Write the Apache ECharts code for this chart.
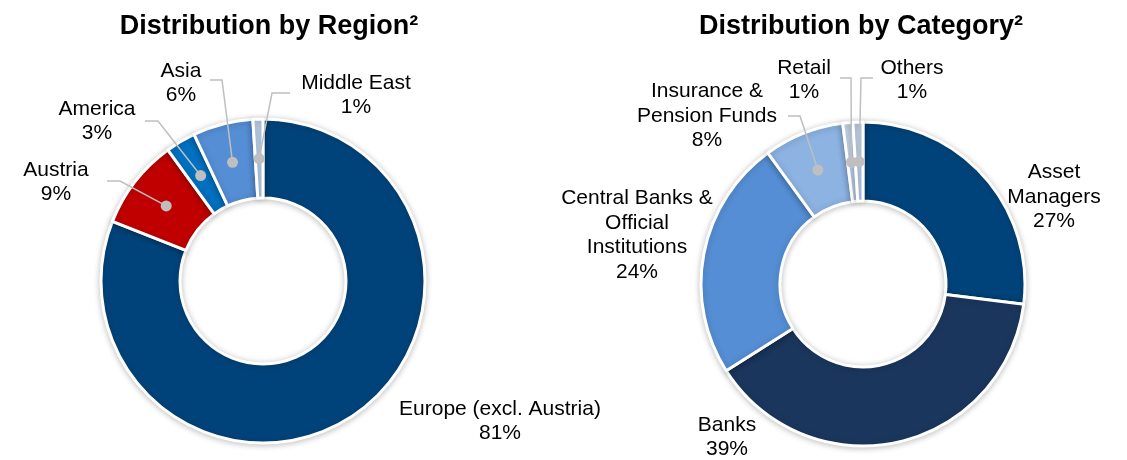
<!DOCTYPE html>
<html>
<head>
<meta charset="utf-8">
<title>Distribution by Region and Category</title>
<script src="https://cdn.jsdelivr.net/npm/echarts@6/dist/echarts.min.js"></script>
<style>
  html, body { margin: 0; padding: 0; background: #ffffff; }
  #chart { width: 1127px; height: 460px; }
</style>
</head>
<body>
<div id="chart"></div>
<script>
// Investor distribution, in percent
const regionNames = ['Europe (excl. Austria)', 'Austria', 'America', 'Asia', 'Middle East'];
const regionValues = [81, 9, 3, 6, 1];
const regionColors = ['#00437a', '#c00000', '#0070c0', '#558ed5', '#b9cde5'];

const categoryNames = ['Asset\nManagers', 'Banks', 'Central Banks &\nOfficial\nInstitutions', 'Insurance &\nPension Funds', 'Retail', 'Others'];
const categoryValues = [27, 39, 24, 8, 1, 1];
const categoryColors = ['#00437a', '#1b365d', '#558ed5', '#8db3e2', '#c6d9f1', '#b9cde5'];

// Label centres and leader elbows (null = no leader line)
const regionLabelPos = [[500, 421], [56, 182], [97, 121], [181, 83], [356, 95]];
const regionLeaders = [null, [[120, 181], [107, 181]], [[158, 121], [145, 121]], [[222, 80], [210, 80]], [[272, 93], [290, 93]]];
const categoryLabelPos = [[1054, 197], [727, 437], [637, 235], [707, 116], [804, 80], [912, 80]];
const categoryLeaders = [null, null, null, [[800, 116], [788, 116]], [[851, 78], [840, 78]], [[861, 78], [873, 78]]];

const FONT = '"Liberation Sans", Arial, Helvetica, sans-serif';

function pieSeries(names, values, colors, center, labelPos) {
  return {
    type: 'pie',
    center: center,
    radius: [83, 162],
    startAngle: 90,
    clockwise: true,
    avoidLabelOverlap: false,
    silent: true,
    data: names.map((n, i) => ({ name: n, value: values[i], itemStyle: { color: colors[i] } })),
    itemStyle: {
      borderColor: '#ffffff',
      borderWidth: 3,
      shadowBlur: 6,
      shadowColor: 'rgba(0,0,0,0.22)',
      shadowOffsetY: 1
    },
    label: {
      show: true,
      formatter: '{b}\n{c}%',
      fontFamily: FONT,
      fontSize: 21,
      lineHeight: 24.5,
      color: '#000000'
    },
    labelLine: { show: false },
    labelLayout: function (p) {
      const pos = labelPos[p.dataIndex];
      return { x: pos[0], y: pos[1], align: 'center', verticalAlign: 'middle' };
    }
  };
}

const chart = echarts.init(document.getElementById('chart'), null, { renderer: 'canvas' });

chart.setOption({
  animation: false,
  backgroundColor: '#ffffff',
  title: [
    { text: 'Distribution by Region²', left: 264, top: 8, textAlign: 'center',
      textStyle: { fontFamily: FONT, fontSize: 27, fontWeight: 'bold', color: '#000000' } },
    { text: 'Distribution by Category²', left: 856, top: 8, textAlign: 'center',
      textStyle: { fontFamily: FONT, fontSize: 27, fontWeight: 'bold', color: '#000000' } }
  ],
  series: [
    pieSeries(regionNames, regionValues, regionColors, [263, 281], regionLabelPos),
    pieSeries(categoryNames, categoryValues, categoryColors, [863, 284], categoryLabelPos)
  ]
});

// Leader lines start from a dot in the middle of each slice ring
function sliceAnchor(seriesIndex, dataIndex, values, center) {
  let l = null;
  try {
    l = chart.getModel().getSeriesByIndex(seriesIndex).getData().getItemLayout(dataIndex);
  } catch (e) { l = null; }
  if (l && isFinite(l.startAngle)) {
    const mid = (l.startAngle + l.endAngle) / 2;
    const rm = (l.r + l.r0) / 2;
    return [l.cx + rm * Math.cos(mid), l.cy + rm * Math.sin(mid)];
  }
  const total = values.reduce((a, b) => a + b, 0);
  let before = 0;
  for (let i = 0; i < dataIndex; i++) before += values[i];
  const mid = -Math.PI / 2 + 2 * Math.PI * (before + values[dataIndex] / 2) / total;
  const rm = (83 + 162) / 2;
  return [center[0] + rm * Math.cos(mid), center[1] + rm * Math.sin(mid)];
}

const graphics = [];
function addLeaders(seriesIndex, leaders, values, center) {
  leaders.forEach((pts, i) => {
    if (!pts) return;
    const a = sliceAnchor(seriesIndex, i, values, center);
    graphics.push({
      type: 'polyline', silent: true, z: 10,
      shape: { points: [a].concat(pts) },
      style: { stroke: '#bfbfbf', lineWidth: 1.5, fill: null }
    });
    graphics.push({
      type: 'circle', silent: true, z: 11,
      shape: { cx: a[0], cy: a[1], r: 5.5 },
      style: { fill: '#bfbfbf' }
    });
  });
}
addLeaders(0, regionLeaders, regionValues, [263, 281]);
addLeaders(1, categoryLeaders, categoryValues, [863, 284]);

chart.setOption({ graphic: graphics });
</script>
</body>
</html>
